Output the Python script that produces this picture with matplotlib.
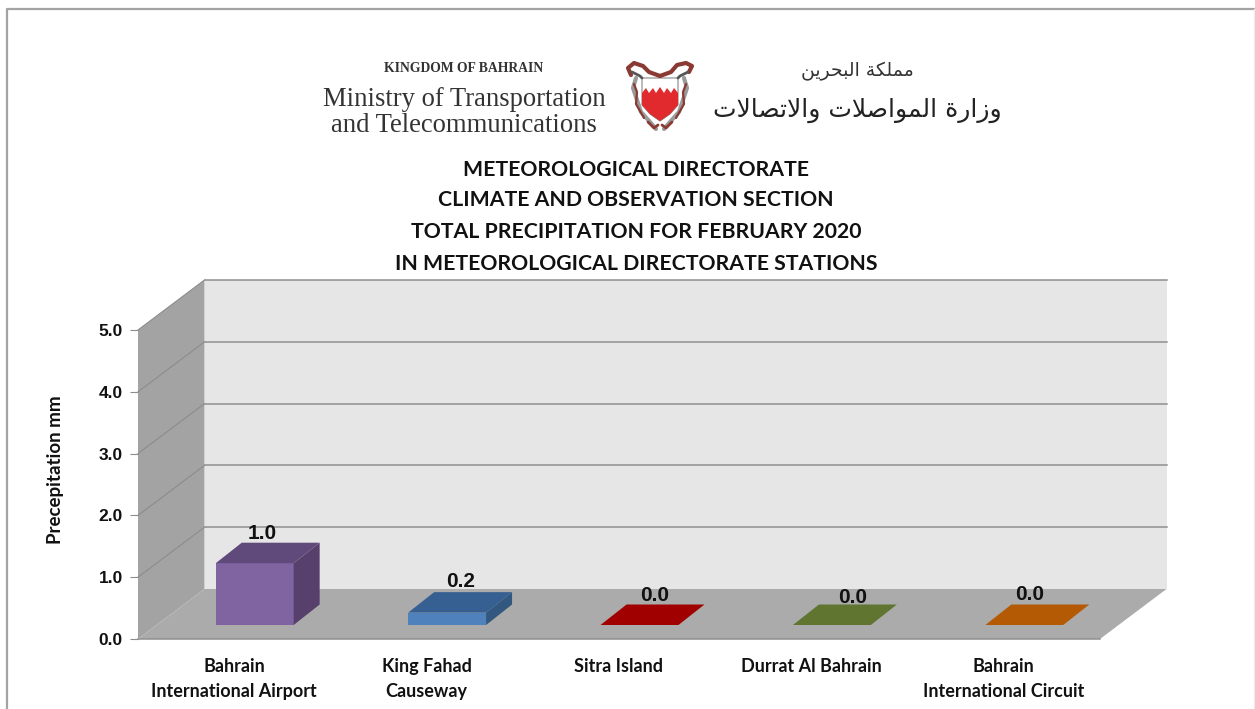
import matplotlib
matplotlib.use('Agg')
import matplotlib.pyplot as plt
from matplotlib.patches import Polygon
from matplotlib.lines import Line2D
from matplotlib.transforms import Affine2D, IdentityTransform

W, H = 1255, 709

stations = ['Bahrain\nInternational Airport', 'King Fahad\nCauseway', 'Sitra Island',
            'Durrat Al Bahrain', 'Bahrain\nInternational Circuit']
precip = [1.0, 0.2, 0.0, 0.0, 0.0]
y_ticks = [0, 1, 2, 3, 4, 5]
title_lines = ['METEOROLOGICAL DIRECTORATE', 'CLIMATE AND OBSERVATION SECTION',
               'TOTAL PRECIPITATION FOR FEBRUARY 2020', 'IN METEOROLOGICAL DIRECTORATE STATIONS']

front_c = ['#8064A2', '#4F81BD', '#A00000', '#5F7530', '#B45A05']
top_c = ['#604A7B', '#376092', '#A00000', '#5F7530', '#B45A05']
side_c = ['#57406B', '#33587F', '#A00000', '#5F7530', '#B45A05']
label_shift = [(28, 24), (34, 26), (36, 24), (41, 22), (26, 25)]

# arabic written as presentation forms, matplotlib does no shaping
ar_small = '\uFEE3\uFEE4\uFEE0\uFEDC\uFE94 \uFE8D\uFEDF\uFE92\uFEA4\uFEAE\uFEF3\uFEE6'[::-1]
ar_big = ('\uFEED\uFEAF\uFE8D\uFEAD\uFE93 \uFE8D\uFEDF\uFEE4\uFEEE\uFE8D\uFEBB\uFEFC\uFE95 '
          '\uFEED\uFE8D\uFEFB\uFE97\uFEBC\uFE8E\uFEFB\uFE95')[::-1]


def fx(x):
    return x / W


def fy(y):
    return 1 - y / H


fig = plt.figure(figsize=(W / 100, H / 100), dpi=100, facecolor='white')

# page frame
fig.add_artist(Line2D([fx(7), fx(7), fx(1255)], [fy(709), fy(9), fy(9)], color='#a3a3a3', lw=1.6))
fig.add_artist(Line2D([fx(1254), fx(1254)], [fy(9), fy(709)], color='#eeeeee', lw=1))

# axes = front plane of the 3d box
ax = fig.add_axes([fx(138), fy(639), fx(962), 309 / H])
ax.set_xlim(0, 5)
ax.set_ylim(0, 5)
ax.patch.set_visible(False)
for s in ax.spines.values():
    s.set_visible(False)

depth = (66.5, 50)
back = ax.transData + Affine2D().translate(*depth)
bar_tr = ax.transData + Affine2D().translate(20.5, 14)
bar_back = bar_tr + Affine2D().translate(26, 20.5)


def face(pts, tr1, tr2, color, z, edge='none'):
    # two points on one plane, the same two on the other one
    p1 = tr1.transform(pts)
    p2 = tr2.transform(pts[::-1])
    ax.add_patch(Polygon(list(p1) + list(p2), closed=True, transform=IdentityTransform(),
                         facecolor=color, edgecolor=edge, lw=0.8, zorder=z, clip_on=False))


# walls
face([(0, 0), (0, 5)], ax.transData, back, '#A3A3A3', 1)
face([(0, 0), (5, 0)], ax.transData, back, '#ABABAB', 1)
p = back.transform([(0, 0), (5, 0), (5, 5), (0, 5)])
ax.add_patch(Polygon(p, closed=True, transform=IdentityTransform(), facecolor='#E6E6E6',
                     edgecolor='none', zorder=1, clip_on=False))
for v in y_ticks[1:]:
    ax.plot([0, 5], [v, v], color='#8f8f8f', lw=1.1, transform=back, zorder=2, clip_on=False)
    a, b = ax.transData.transform((0, v)), back.transform((0, v))
    ax.plot([a[0], b[0]], [a[1], b[1]], color='#8c8c8c', lw=0.8,
            transform=IdentityTransform(), zorder=2, clip_on=False)
ax.plot([0, 5], [0, 0], color='#8f8f8f', lw=1.1, zorder=2, clip_on=False)

# bars
bw = 0.405
for i, v in enumerate(precip):
    c = i + 0.5
    x0, x1 = c - bw / 2, c + bw / 2
    if v > 0:
        ax.bar(c, v, bw, color=front_c[i], transform=bar_tr, zorder=3, clip_on=False)
        face([(x1, 0), (x1, v)], bar_tr, bar_back, side_c[i], 3)
    face([(x0, v), (x1, v)], bar_tr, bar_back, top_c[i], 4)
    ax.annotate('%.1f' % v, (c, v), xycoords=ax.transData,
                xytext=(label_shift[i][0] * 0.72, label_shift[i][1] * 0.72 + 10),
                textcoords='offset points', ha='center', va='baseline',
                family='Liberation Sans', weight='bold', fontsize=15, color='#111111', zorder=6)

ax.set_yticks(y_ticks)
ax.set_yticklabels(['%.1f' % v for v in y_ticks], family='Liberation Sans', weight='bold',
                   fontsize=12.5, color='#111111')
ax.set_xticks([i + 0.5 for i in range(len(stations))])
ax.set_xticklabels(stations, family='Lato', weight='bold', fontsize=13, color='#111111',
                   linespacing=1.55, va='top')
ax.tick_params(axis='y', length=6, width=0.8, color='#8c8c8c', pad=5)
ax.tick_params(axis='x', length=0, pad=14)

fig.text(fx(56), fy(470), 'Precepitation mm', rotation=90, ha='center', va='center',
         family='Lato', weight='bold', fontsize=13.5, color='#111111')

# title
for t, y in zip(title_lines, [170, 200, 232, 264]):
    fig.text(fx(636), fy(y), t, ha='center', va='center', family='Lato', weight='bold',
             fontsize=15.3, color='#111111')

# letterhead
serif = 'Liberation Serif'
fig.text(fx(464), fy(69), 'KINGDOM OF BAHRAIN', ha='center', va='center', family=serif,
         weight='bold', fontsize=9.8, color='#333333')
fig.text(fx(464), fy(100), 'Ministry of Transportation', ha='center', va='center', family=serif,
         fontsize=19.2, color='#333333')
fig.text(fx(464), fy(125), 'and Telecommunications', ha='center', va='center', family=serif,
         fontsize=19.2, color='#333333')
fig.text(fx(857), fy(71), ar_small, ha='center', va='center', family='DejaVu Sans',
         fontsize=13.5, color='#333333')
fig.text(fx(857), fy(110), ar_big, ha='center', va='center', family='DejaVu Sans',
         fontsize=18, color='#222222')


def crest_poly(pts, **kw):
    fig.add_artist(Polygon([(fx(x), fy(y)) for x, y in pts], closed=True,
                           transform=fig.transFigure, **kw))


def crest_line(pts, color, lw):
    fig.add_artist(Line2D([fx(x) for x, y in pts], [fy(y) for x, y in pts], color=color, lw=lw,
                          solid_capstyle='round'))


# crest
crest_line([(631, 75), (628, 68), (634, 63), (643, 66), (649, 72), (660, 76)], '#8a3a32', 3)
crest_line([(689, 72), (692, 66), (686, 63), (677, 65), (671, 72), (660, 76)], '#8a3a32', 3)
crest_line([(632, 72), (640, 76), (642, 78)], '#555555', 2)
crest_line([(688, 72), (680, 76), (678, 78)], '#555555', 2)
crest_line([(636, 78), (633, 88), (637, 100), (641, 112), (650, 122), (656, 129)], '#9a9a9a', 3)
crest_line([(684, 78), (687, 88), (683, 100), (679, 112), (670, 122), (664, 129)], '#9a9a9a', 3)
crest_line([(634, 84), (637, 92), (636, 104), (644, 118)], '#8a3a32', 1.6)
crest_line([(686, 84), (683, 92), (684, 104), (676, 118)], '#8a3a32', 1.6)
crest_line([(648, 122), (654, 128), (658, 125)], '#8a3a32', 2)
crest_line([(672, 122), (666, 128), (662, 125)], '#8a3a32', 2)
crest_poly([(642, 78), (678, 78), (678, 105), (670, 114), (660, 121), (650, 114), (642, 105)],
           facecolor='white', edgecolor='#777777', lw=0.7)
crest_poly([(642, 93), (646, 88), (649, 93), (653, 88), (656, 93), (660, 87), (664, 93), (667, 88),
            (671, 93), (674, 88), (678, 93), (678, 105), (670, 114), (660, 121), (650, 114),
            (642, 105)], facecolor='#E02A2E', edgecolor='none')

fig.savefig('out.png', dpi=100)
